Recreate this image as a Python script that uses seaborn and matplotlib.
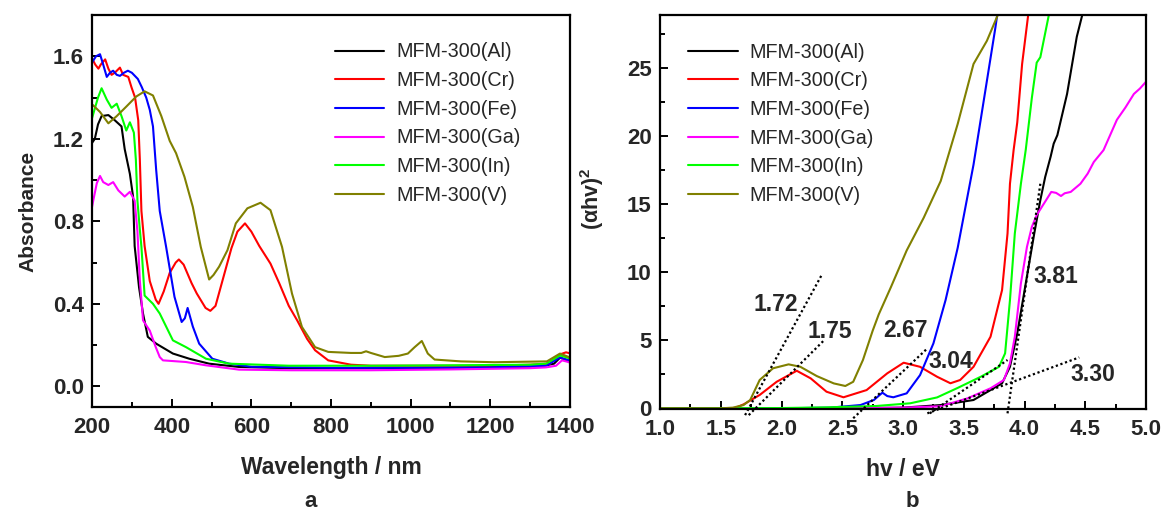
import numpy as np
import pandas as pd
import matplotlib
matplotlib.use("Agg")
import matplotlib.pyplot as plt
from matplotlib.ticker import MultipleLocator
import seaborn as sns

# ---------------- data: panel a (absorbance) ----------------
series_names = ["MFM-300(Al)", "MFM-300(Cr)", "MFM-300(Fe)", "MFM-300(Ga)", "MFM-300(In)", "MFM-300(V)"]
series_colors = ["#000000", "#ff0000", "#0000ff", "#ff00ff", "#00ff00", "#808000"]

wl_al = [200, 207, 215, 224, 241, 257, 274, 282, 295, 303, 307, 318, 328, 340, 361, 403, 444, 494, 569, 700, 900, 1100, 1300, 1334, 1360, 1375, 1392, 1400]
a_al = [1.18, 1.20, 1.27, 1.31, 1.315, 1.29, 1.26, 1.15, 1.03, 0.92, 0.68, 0.48, 0.353, 0.24, 0.207, 0.159, 0.134, 0.11, 0.094, 0.088, 0.088, 0.09, 0.095, 0.099, 0.11, 0.139, 0.126, 0.12]

wl_cr = [200, 208, 216, 222, 233, 241, 249, 257, 270, 278, 291, 299, 308, 316, 320, 324, 332, 345, 360, 367, 380, 395, 410, 418, 430, 450, 463, 485, 497, 510, 530, 550, 565, 584, 600, 620, 648, 670, 694, 715, 740, 760, 793, 850, 900, 1000, 1100, 1200, 1300, 1350, 1375, 1390, 1400]
a_cr = [1.59, 1.56, 1.54, 1.56, 1.585, 1.54, 1.51, 1.52, 1.545, 1.51, 1.50, 1.45, 1.40, 1.29, 1.10, 0.85, 0.68, 0.51, 0.42, 0.40, 0.46, 0.55, 0.60, 0.615, 0.59, 0.50, 0.45, 0.38, 0.366, 0.39, 0.53, 0.67, 0.75, 0.79, 0.75, 0.68, 0.595, 0.50, 0.39, 0.32, 0.23, 0.175, 0.126, 0.105, 0.10, 0.10, 0.10, 0.10, 0.105, 0.11, 0.155, 0.165, 0.16]

wl_fe = [200, 210, 220, 228, 237, 245, 253, 262, 270, 280, 290, 300, 315, 325, 336, 345, 353, 361, 370, 386, 407, 425, 433, 440, 453, 469, 502, 544, 600, 800, 1000, 1200, 1340, 1375, 1392, 1400]
a_fe = [1.57, 1.60, 1.61, 1.56, 1.50, 1.52, 1.53, 1.51, 1.505, 1.52, 1.53, 1.52, 1.49, 1.45, 1.40, 1.34, 1.26, 1.05, 0.85, 0.676, 0.434, 0.312, 0.33, 0.38, 0.29, 0.207, 0.134, 0.11, 0.095, 0.09, 0.09, 0.092, 0.10, 0.14, 0.13, 0.125]

wl_ga = [200, 203, 212, 220, 228, 241, 253, 266, 282, 295, 307, 314, 320, 328, 345, 360, 370, 378, 436, 486, 569, 700, 900, 1100, 1300, 1340, 1365, 1380, 1392, 1400]
a_ga = [0.87, 0.90, 0.985, 1.02, 0.99, 0.976, 0.99, 0.95, 0.92, 0.943, 0.90, 0.75, 0.515, 0.32, 0.27, 0.19, 0.142, 0.126, 0.118, 0.102, 0.081, 0.078, 0.078, 0.082, 0.088, 0.092, 0.10, 0.126, 0.12, 0.115]

wl_in = [200, 203, 215, 224, 237, 249, 262, 274, 286, 295, 305, 310, 314, 320, 324, 332, 353, 370, 403, 436, 486, 544, 694, 900, 1100, 1300, 1340, 1375, 1392, 1400]
a_in = [1.30, 1.32, 1.40, 1.445, 1.39, 1.35, 1.37, 1.31, 1.24, 1.28, 1.23, 1.10, 0.90, 0.76, 0.676, 0.44, 0.40, 0.353, 0.223, 0.19, 0.134, 0.11, 0.10, 0.10, 0.102, 0.105, 0.11, 0.15, 0.14, 0.135]

wl_v = [200, 202, 220, 241, 262, 286, 311, 332, 353, 374, 395, 411, 432, 453, 473, 494, 505, 519, 540, 561, 590, 623, 648, 677, 702, 727, 760, 793, 850, 876, 888, 900, 935, 970, 993, 1010, 1028, 1043, 1060, 1126, 1210, 1342, 1375, 1392, 1400]
a_v = [1.36, 1.364, 1.33, 1.275, 1.31, 1.356, 1.405, 1.43, 1.41, 1.31, 1.19, 1.13, 1.016, 0.87, 0.676, 0.518, 0.54, 0.58, 0.66, 0.79, 0.863, 0.89, 0.854, 0.676, 0.45, 0.288, 0.19, 0.167, 0.162, 0.162, 0.17, 0.162, 0.142, 0.148, 0.159, 0.19, 0.22, 0.159, 0.13, 0.121, 0.117, 0.121, 0.159, 0.146, 0.14]

# ---------------- data: panel b (Tauc plot) ----------------
e_al = [1.0, 2.5, 3.0, 3.31, 3.58, 3.72, 3.815, 3.88, 3.94, 4.01, 4.08, 4.13, 4.17, 4.215, 4.24, 4.27, 4.35, 4.43, 4.475]
v_al = [0, 0, 0.05, 0.24, 0.61, 1.34, 1.84, 3.05, 5.5, 9.18, 12.85, 15.3, 17.0, 18.5, 19.45, 20.07, 23.1, 27.3, 28.9]

e_cr = [1.0, 1.55, 1.62, 1.69, 1.82, 1.96, 2.125, 2.24, 2.37, 2.51, 2.70, 2.87, 3.005, 3.14, 3.28, 3.39, 3.47, 3.58, 3.72, 3.815, 3.86, 3.88, 3.91, 3.94, 3.98, 4.03]
v_cr = [0, 0, 0.03, 0.3, 0.98, 1.95, 2.76, 2.2, 1.22, 0.81, 1.34, 2.57, 3.35, 3.05, 2.32, 1.84, 2.08, 3.05, 5.26, 8.69, 12.85, 16.5, 18.97, 21.0, 25.3, 28.9]

e_fe = [1.0, 2.0, 2.4, 2.65, 2.76, 2.83, 2.87, 2.92, 3.03, 3.14, 3.25, 3.35, 3.45, 3.58, 3.69, 3.76, 3.775]
v_fe = [0, 0, 0.05, 0.24, 0.61, 1.15, 0.9, 0.81, 1.1, 2.44, 4.77, 7.95, 11.8, 17.9, 24.05, 27.97, 28.9]

e_ga = [1.0, 2.5, 3.0, 3.31, 3.53, 3.72, 3.83, 3.88, 3.92, 3.97, 4.02, 4.06, 4.10, 4.16, 4.22, 4.26, 4.30, 4.33, 4.38, 4.46, 4.52, 4.57, 4.65, 4.76, 4.83, 4.90, 4.95, 5.0]
v_ga = [0, 0, 0.05, 0.15, 0.73, 1.47, 2.08, 3.3, 5.26, 9.18, 11.87, 13.33, 14.2, 15.05, 15.9, 15.83, 15.6, 15.8, 15.9, 16.5, 17.25, 18.1, 18.97, 21.2, 22.1, 23.1, 23.5, 24.0]

e_in = [1.0, 2.0, 2.37, 2.78, 3.06, 3.28, 3.45, 3.64, 3.79, 3.84, 3.88, 3.92, 3.97, 4.01, 4.06, 4.10, 4.13, 4.20]
v_in = [0, 0.02, 0.07, 0.17, 0.37, 0.8, 1.5, 2.32, 3.05, 4.04, 7.95, 12.85, 16.5, 19.0, 22.8, 25.4, 25.8, 28.9]

e_v = [1.0, 1.5, 1.6, 1.687, 1.742, 1.82, 1.93, 2.058, 2.155, 2.29, 2.43, 2.525, 2.59, 2.67, 2.75, 2.80, 2.90, 3.03, 3.17, 3.31, 3.45, 3.58, 3.69, 3.78]
v_v = [0, 0, 0.05, 0.24, 0.61, 2.08, 2.94, 3.23, 3.05, 2.37, 1.83, 1.64, 1.95, 3.55, 5.7, 6.9, 8.9, 11.6, 14.0, 16.7, 20.9, 25.3, 27.0, 28.9]

# tangent (band-gap extrapolation) lines and their values
tangent_e = [[1.70, 2.33], [1.73, 2.35], [2.59, 3.20], [3.22, 3.86], [3.20, 4.45], [3.86, 4.13]]
tangent_v = [[-0.5, 9.79], [-0.5, 5.0], [-0.73, 4.4], [-0.37, 3.55], [-0.37, 3.74], [-0.37, 16.5]]
gap_labels = ["1.72", "1.75", "2.67", "3.04", "3.30", "3.81"]
gap_label_e = [1.95, 2.40, 3.02, 3.39, 4.56, 4.26]
gap_label_v = [7.64, 5.67, 5.71, 3.44, 2.52, 9.68]

abs_x = [wl_al, wl_cr, wl_fe, wl_ga, wl_in, wl_v]
abs_y = [a_al, a_cr, a_fe, a_ga, a_in, a_v]
tauc_x = [e_al, e_cr, e_fe, e_ga, e_in, e_v]
tauc_y = [v_al, v_cr, v_fe, v_ga, v_in, v_v]

df_abs = pd.concat([pd.DataFrame({"x": x, "y": y, "s": n}) for x, y, n in zip(abs_x, abs_y, series_names)], ignore_index=True)
df_tauc = pd.concat([pd.DataFrame({"x": x, "y": y, "s": n}) for x, y, n in zip(tauc_x, tauc_y, series_names)], ignore_index=True)

# ---------------- style ----------------
sns.set_theme(style="ticks")
plt.rcParams["font.family"] = ["Liberation Sans", "DejaVu Sans"]
plt.rcParams["mathtext.fontset"] = "custom"
plt.rcParams["mathtext.rm"] = "Liberation Sans:bold"
plt.rcParams["mathtext.it"] = "Liberation Sans:bold"
plt.rcParams["mathtext.bf"] = "Liberation Sans:bold"

fig = plt.figure(figsize=(11.68, 5.14), dpi=100)
ax1 = fig.add_axes([0.0788, 0.2082, 0.4092, 0.7626])
ax2 = fig.add_axes([0.5651, 0.2043, 0.4161, 0.7665])

palette = dict(zip(series_names, series_colors))
sns.lineplot(data=df_abs, x="x", y="y", hue="s", palette=palette, hue_order=series_names,
             sort=False, estimator=None, lw=1.5, ax=ax1)
sns.lineplot(data=df_tauc, x="x", y="y", hue="s", palette=palette, hue_order=series_names,
             sort=False, estimator=None, lw=1.5, ax=ax2)

for te, tv in zip(tangent_e, tangent_v):
    ax2.plot(te, tv, color="black", ls=(0, (1, 1.2)), lw=1.6, clip_on=False, zorder=5)
for lab, xe, yv in zip(gap_labels, gap_label_e, gap_label_v):
    ax2.text(xe, yv, lab, fontsize=16.5, fontweight="bold", ha="center", va="center")

ax1.set_xlim(200, 1400)
ax1.set_ylim(-0.10, 1.80)
ax1.xaxis.set_major_locator(MultipleLocator(200))
ax1.xaxis.set_minor_locator(MultipleLocator(100))
ax1.yaxis.set_major_locator(MultipleLocator(0.4))
ax1.yaxis.set_minor_locator(MultipleLocator(0.2))
ax1.yaxis.set_major_formatter(matplotlib.ticker.FormatStrFormatter("%.1f"))
ax1.set_xlabel("Wavelength / nm", fontsize=16.5, fontweight="bold", labelpad=13)
ax1.set_ylabel("Absorbance", fontsize=15, fontweight="bold", labelpad=11)

ax2.set_xlim(1.0, 5.0)
ax2.set_ylim(-0.05, 28.9)
ax2.xaxis.set_major_locator(MultipleLocator(0.5))
ax2.xaxis.set_minor_locator(MultipleLocator(0.25))
ax2.xaxis.set_major_formatter(matplotlib.ticker.FormatStrFormatter("%.1f"))
ax2.yaxis.set_major_locator(MultipleLocator(5))
ax2.yaxis.set_minor_locator(MultipleLocator(2.5))
ax2.set_xlabel("hv / eV", fontsize=16.5, fontweight="bold", labelpad=13)
ax2.set_ylabel("(αhv)$^2$", fontsize=15.5, fontweight="bold", labelpad=12)

for ax, anchor in ((ax1, (0.508, 0.93)), (ax2, (0.058, 0.93))):
    for sp in ax.spines.values():
        sp.set_visible(True)
        sp.set_linewidth(1.6)
        sp.set_color("black")
    ax.tick_params(which="both", direction="in", top=False, right=False, width=1.4, color="black")
    ax.tick_params(which="major", length=6)
    ax.tick_params(which="minor", length=3.5)
    for lbl in ax.get_xticklabels() + ax.get_yticklabels():
        lbl.set_fontsize(16)
        lbl.set_fontweight("bold")
    ax.tick_params(axis="x", pad=7)
    ax.tick_params(axis="y", pad=6)
    ax.legend(loc="upper left", bbox_to_anchor=anchor, frameon=False, fontsize=14.2,
              handlelength=2.5, handletextpad=0.6, labelspacing=0.49, borderpad=0, borderaxespad=0)

ax2.yaxis.set_label_coords(-0.112, 0.535)

fig.text(0.266, 0.024, "a", fontsize=16, fontweight="bold", ha="center", va="center")
fig.text(0.781, 0.024, "b", fontsize=16, fontweight="bold", ha="center", va="center")

fig.savefig("out.png", dpi=100, facecolor="white")
